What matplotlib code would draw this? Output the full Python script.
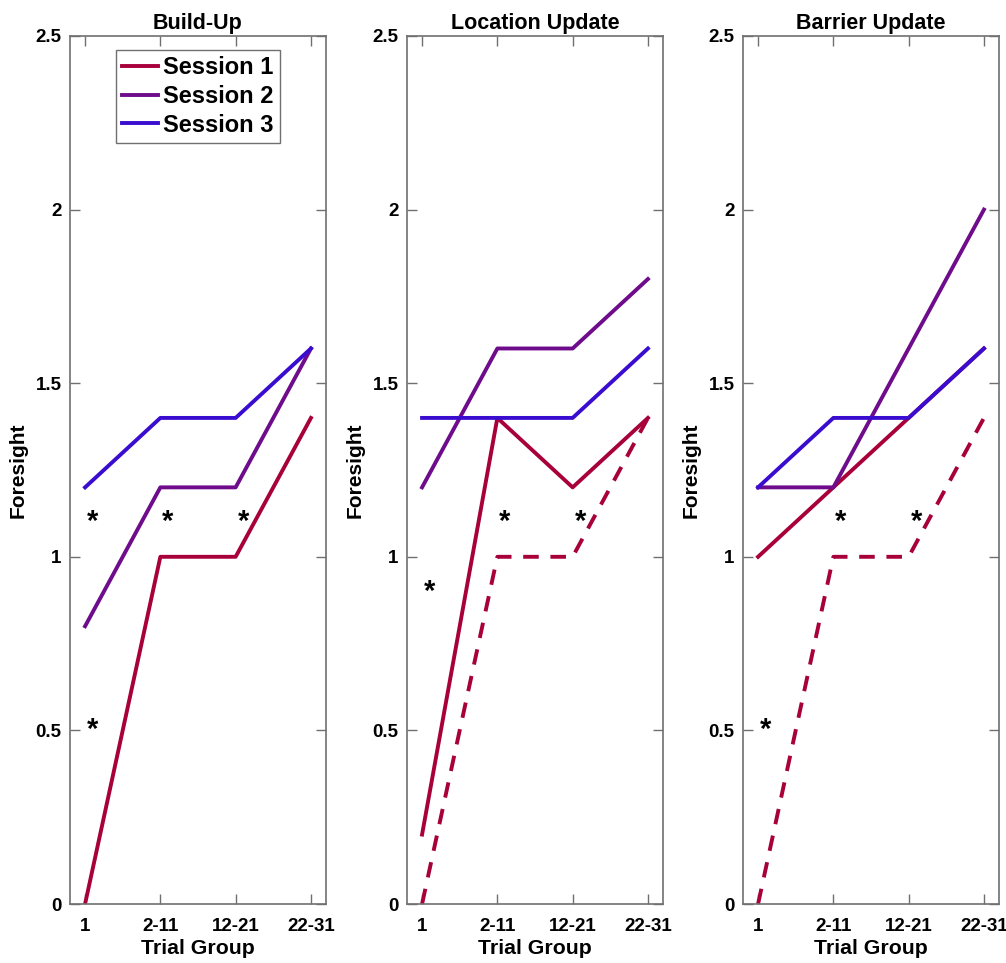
import matplotlib
matplotlib.use("Agg")
import matplotlib.pyplot as plt

plt.rcParams['font.family'] = ['Liberation Sans', 'DejaVu Sans']
plt.rcParams['font.weight'] = 'bold'

x_labels = ["1", "2-11", "12-21", "22-31"]
x_pos = [1, 2, 3, 4]
titles = ["Build-Up", "Location Update", "Barrier Update"]
sessions = ["Session 1", "Session 2", "Session 3"]

session1 = [[0.0, 1.0, 1.0, 1.4], [0.2, 1.4, 1.2, 1.4], [1.0, 1.2, 1.4, 1.6]]
session2 = [[0.8, 1.2, 1.2, 1.6], [1.2, 1.6, 1.6, 1.8], [1.2, 1.2, 1.6, 2.0]]
session3 = [[1.2, 1.4, 1.4, 1.6], [1.4, 1.4, 1.4, 1.6], [1.2, 1.4, 1.4, 1.6]]
dashed = [None, [0.0, 1.0, 1.0, 1.4], [0.0, 1.0, 1.0, 1.4]]

star_x = [[1.1, 1.1, 2.1, 3.1], [1.1, 2.1, 3.1], [1.1, 2.1, 3.1]]
star_y = [[1.10, 0.50, 1.10, 1.10], [0.90, 1.10, 1.10], [0.50, 1.10, 1.10]]

colors = ["#A8003A", "#6E0C8C", "#3A0CD0"]
spine_col = "#707070"

fig = plt.figure(figsize=(10.06, 9.63), dpi=100)
lefts = [70 / 1006, 407 / 1006, 743 / 1006]
w = 256 / 1006
bottom = 59 / 963
h = 868 / 963

for i in range(3):
    ax = fig.add_axes([lefts[i], bottom, w, h])
    l1, = ax.plot(x_pos, session1[i], color=colors[0], lw=2.8, label=sessions[0])
    l2, = ax.plot(x_pos, session2[i], color=colors[1], lw=2.8, label=sessions[1])
    l3, = ax.plot(x_pos, session3[i], color=colors[2], lw=2.8, label=sessions[2])
    if dashed[i] is not None:
        ax.plot(x_pos, dashed[i], color=colors[0], lw=2.8, ls=(0, (4, 3)))
    for sx, sy in zip(star_x[i], star_y[i]):
        ax.text(sx, sy, "*", fontsize=21, fontweight='bold', ha='center', va='center')
    ax.set_xlim(0.8, 4.2)
    ax.set_ylim(0, 2.5)
    ax.set_xticks(x_pos)
    ax.set_xticklabels(x_labels)
    ax.set_yticks([0, 0.5, 1, 1.5, 2, 2.5])
    ax.set_yticklabels(["0", "0.5", "1", "1.5", "2", "2.5"])
    ax.tick_params(direction='in', top=True, right=True, length=7, width=1,
                   color=spine_col, labelsize=13.5)
    ax.tick_params(axis='x', pad=10)
    ax.tick_params(axis='y', pad=6)
    for lab in ax.get_xticklabels() + ax.get_yticklabels():
        lab.set_fontweight('bold')
    for sp in ax.spines.values():
        sp.set_color(spine_col)
        sp.set_linewidth(1.2)
    ax.set_title(titles[i], fontsize=15.5, fontweight='bold', pad=5)
    ax.set_xlabel("Trial Group", fontsize=15.3, fontweight='bold', labelpad=3)
    ax.set_ylabel("Foresight", fontsize=15, fontweight='bold', labelpad=6)
    if i == 0:
        leg = ax.legend(handles=[l1, l2, l3], loc='upper center',
                        bbox_to_anchor=(0.5, 0.992),
                        prop={'weight': 'bold', 'size': 17},
                        fancybox=False, edgecolor=spine_col, framealpha=1,
                        handlelength=1.5, handletextpad=0.25, borderpad=0.25,
                        labelspacing=0.25, borderaxespad=0.3)
        leg.get_frame().set_linewidth(1.0)

fig.savefig("out.png", dpi=100)
